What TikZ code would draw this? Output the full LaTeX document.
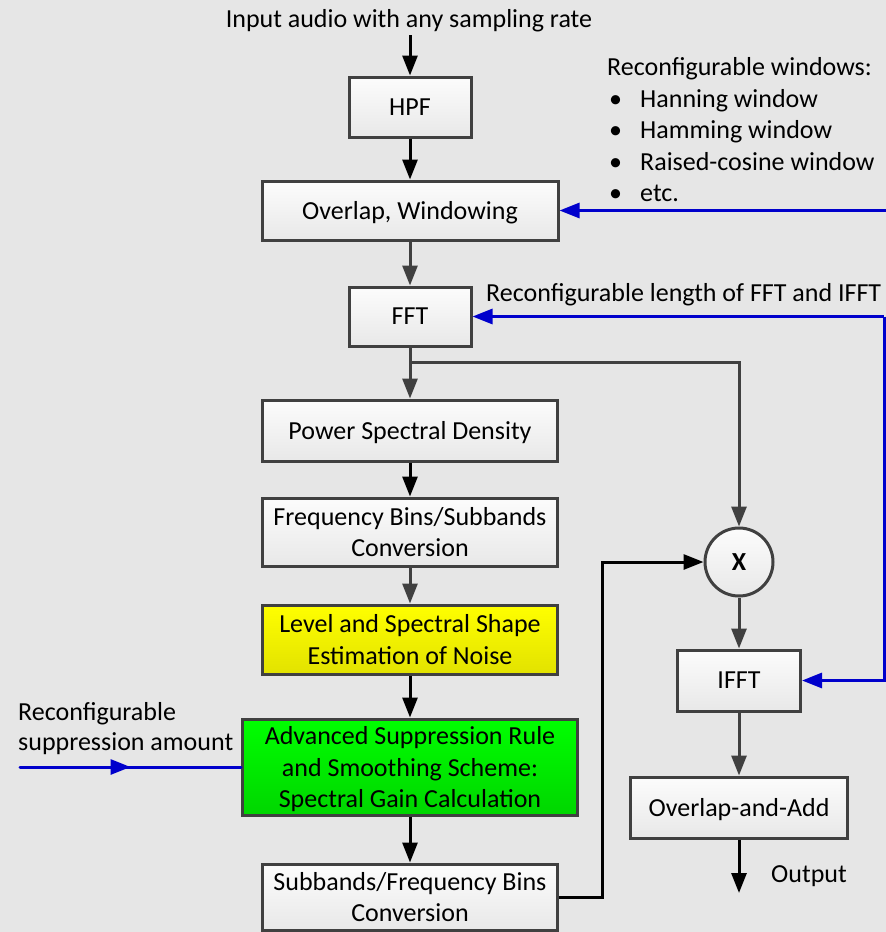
\documentclass[tikz,border=0pt]{standalone}
\usepackage{fontspec}
\setmainfont{Carlito}
\usetikzlibrary{arrows.meta,decorations.markings,calc}
\definecolor{bgc}{RGB}{230,230,230}
\definecolor{bordc}{RGB}{64,64,64}
\definecolor{boxtop}{RGB}{252,252,252}
\definecolor{boxbot}{RGB}{232,232,232}
\definecolor{bluec}{RGB}{0,0,204}
\definecolor{yeltop}{RGB}{255,255,0}
\definecolor{yelbot}{RGB}{226,226,0}
\definecolor{grntop}{RGB}{0,255,0}
\definecolor{grnbot}{RGB}{0,214,0}
\begin{document}
\begin{tikzpicture}[x=1pt,y=-1pt,
  font=\fontsize{26}{31.5}\selectfont,
  box/.style={draw=bordc, line width=3pt, top color=boxtop, bottom color=boxbot,
    inner sep=0pt, align=center, text depth=0pt},
  yelbox/.style={box, top color=yeltop, bottom color=yelbot},
  grnbox/.style={box, top color=grntop, bottom color=grnbot},
  tip/.style={-{Triangle[length=20pt,width=15pt]}},
  blk/.style={line width=3pt, draw=black, tip},
  gry/.style={line width=3pt, draw=bordc, tip},
  gryline/.style={line width=3pt, draw=bordc},
  blu/.style={line width=3pt, draw=bluec, tip},
  lbl/.style={inner sep=0pt, anchor=base west}]
\fill[bgc] (0,0) rectangle (886,932);
\useasboundingbox (0,0) rectangle (886,932);

% boxes
\node[box, minimum width=122pt, minimum height=60pt] (HPF) at (410,107) {HPF};
\node[box, minimum width=296pt, minimum height=59pt] (OW) at (410,210.5) {Overlap, Windowing};
\node[box, minimum width=122pt, minimum height=59pt] (FFT) at (410,316.5) {FFT};
\node[box, minimum width=295pt, minimum height=61pt] (PSD) at (410,430.5) {Power Spectral Density};
\node[box, minimum width=295pt, minimum height=68pt] (FBS) at (410,532) {Frequency Bins/Subbands\\Conversion};
\node[yelbox, minimum width=295pt, minimum height=69pt] (LSE) at (410,639.5) {Level and Spectral Shape\\Estimation of Noise};
\node[grnbox, minimum width=335pt, minimum height=96pt] (ASR) at (410,767) {Advanced Suppression Rule\\and Smoothing Scheme:\\Spectral Gain Calculation};
\node[box, minimum width=295pt, minimum height=66pt] (SFB) at (410,897) {Subbands/Frequency Bins\\Conversion};
\node[box, circle, minimum size=68pt] (X) at (739,562) {\textbf{X}};
\node[box, minimum width=123pt, minimum height=61pt] (IFFT) at (739,680.5) {IFFT};
\node[box, minimum width=217pt, minimum height=61pt] (OLA) at (739,807.5) {Overlap-and-Add};

% labels
\node[inner sep=0pt, anchor=base] (inlbl) at (409,27) {Input audio with any sampling rate};
\node[lbl] (w0) at (607,75) {Reconfigurable windows:};
\node[lbl] (w1) at (609,107) {\makebox[31pt][l]{•}Hanning window};
\node[lbl] (w2) at (609,138.5) {\makebox[31pt][l]{•}Hamming window};
\node[lbl] (w3) at (609,170) {\makebox[31pt][l]{•}Raised-cosine window};
\node[lbl] (w4) at (609,201.5) {\makebox[31pt][l]{•}etc.};
\node[lbl] (flen) at (486,301) {Reconfigurable length of FFT and IFFT};
\node[lbl] (s1) at (18,720) {Reconfigurable};
\node[lbl] (s2) at (18,750) {suppression amount};
\node[lbl] (outl) at (771,882) {Output};

% coordinates
\coordinate (in) at (410,35);
\coordinate (br) at (410,362);
\coordinate (br2) at (739,362);
\coordinate (sr) at (602,897);
\coordinate (out) at (739,893);
\coordinate (wsrc) at (886,210.5);
\coordinate (lsrc) at (884,316.5);
\coordinate (ssrc) at (20,767);

% black / gray flow
\draw[blk] (in) -- (HPF.north);
\draw[blk] (HPF) -- (OW);
\draw[gry] (OW) -- (FFT);
\draw[gryline] (FFT.south) -- (br);
\draw[gry] (br) -- (PSD.north);
\draw[gry] (br) -- (br2) -- (X.north);
\draw[blk] (PSD) -- (FBS);
\draw[gry] (FBS) -- (LSE);
\draw[blk] (LSE) -- (ASR);
\draw[blk] (ASR) -- (SFB);
\draw[blk] (SFB.east) -- (sr) |- (X.west);
\draw[gry] (X) -- (IFFT);
\draw[gry] (IFFT) -- (OLA);
\draw[blk] (OLA.south) -- (out);

% blue control lines
\draw[blu] (wsrc) -- (OW.east);
\draw[blu] (lsrc) -- (FFT.east);
\draw[blu] (lsrc) |- (IFFT.east);
\draw[line width=3pt, draw=bluec, line cap=round,
  postaction={decorate},
  decoration={markings, mark=at position 0.5 with {\arrow[bluec]{Triangle[length=20pt,width=15pt]}}}]
  (ssrc) -- (ASR.west);
\end{tikzpicture}
\end{document}
